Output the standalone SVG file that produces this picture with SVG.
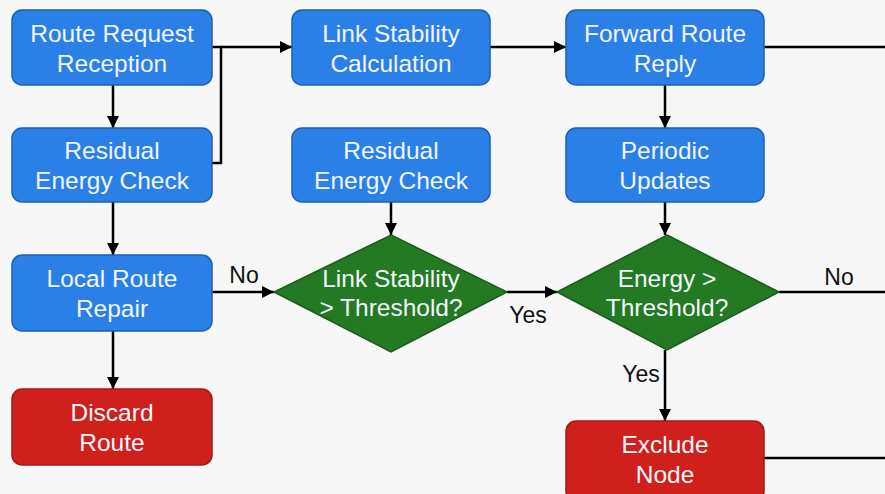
<svg xmlns="http://www.w3.org/2000/svg" width="885" height="494" viewBox="0 0 885 494">
<defs>
<marker id="ah" viewBox="0 0 10 10" refX="10" refY="5" markerWidth="13" markerHeight="12" markerUnits="userSpaceOnUse" orient="auto">
<path d="M0,0 L10,5 L0,10 z" fill="#000"/>
</marker>
<style>
.b{fill:#2b80e8;stroke:#1c5fb5;stroke-width:1.5}
.g{fill:#237a22;stroke:#1a5c1a;stroke-width:1.5}
.r{fill:#d0201c;stroke:#a51815;stroke-width:1.5}
.t{font-family:"Liberation Sans",Arial,sans-serif;font-size:24.5px;fill:#f2f6ff;text-anchor:middle}
.l{font-family:"Liberation Sans",Arial,sans-serif;font-size:23px;fill:#111;text-anchor:middle}
.c{fill:none;stroke:#000;stroke-width:2.5}
</style>
</defs>
<rect width="885" height="494" fill="#f7f7f7"/>
<g id="connectors">
<line class="c" x1="113" y1="85" x2="113" y2="128" marker-end="url(#ah)"/>
<polyline class="c" points="212,163 221,163 221,47 212,47"/>
<line class="c" x1="221" y1="47" x2="292" y2="47" marker-end="url(#ah)"/>
<line class="c" x1="490" y1="47" x2="566" y2="47" marker-end="url(#ah)"/>
<line class="c" x1="764" y1="47" x2="885" y2="47"/>
<line class="c" x1="665" y1="85" x2="665" y2="128" marker-end="url(#ah)"/>
<line class="c" x1="665" y1="202" x2="665" y2="235" marker-end="url(#ah)"/>
<line class="c" x1="391" y1="202" x2="391" y2="235" marker-end="url(#ah)"/>
<line class="c" x1="113" y1="202" x2="113" y2="255" marker-end="url(#ah)"/>
<line class="c" x1="113" y1="331" x2="113" y2="389" marker-end="url(#ah)"/>
<line class="c" x1="212" y1="292" x2="274" y2="292" marker-end="url(#ah)"/>
<line class="c" x1="507" y1="292" x2="557" y2="292" marker-end="url(#ah)"/>
<line class="c" x1="779" y1="292" x2="885" y2="292"/>
<line class="c" x1="665" y1="350" x2="665" y2="421" marker-end="url(#ah)"/>
<line class="c" x1="764" y1="458" x2="885" y2="458"/>
<text class="l" x="244" y="283">No</text>
<text class="l" x="528" y="323">Yes</text>
<text class="l" x="839" y="285">No</text>
<text class="l" x="641" y="382">Yes</text>
</g>
<g id="n1"><rect class="b" x="12" y="10" width="200" height="75" rx="10"/><text class="t" x="112" y="42">Route Request</text><text class="t" x="112" y="72">Reception</text></g>
<g id="n2"><rect class="b" x="12" y="128" width="200" height="74" rx="10"/><text class="t" x="112" y="159">Residual</text><text class="t" x="112" y="189">Energy Check</text></g>
<g id="n3"><rect class="b" x="12" y="255" width="200" height="76" rx="10"/><text class="t" x="112" y="287">Local Route</text><text class="t" x="112" y="317">Repair</text></g>
<g id="n4"><rect class="r" x="12" y="389" width="200" height="76" rx="10"/><text class="t" x="112" y="421">Discard</text><text class="t" x="112" y="451">Route</text></g>
<g id="n5"><rect class="b" x="292" y="10" width="198" height="75" rx="10"/><text class="t" x="391" y="42">Link Stability</text><text class="t" x="391" y="72">Calculation</text></g>
<g id="n6"><rect class="b" x="292" y="128" width="198" height="74" rx="10"/><text class="t" x="391" y="159">Residual</text><text class="t" x="391" y="189">Energy Check</text></g>
<g id="n7"><polygon class="g" points="391,235 507,292 391,352 274,292"/><text class="t" x="391" y="287">Link Stability</text><text class="t" x="391" y="316">&gt; Threshold?</text></g>
<g id="n8"><rect class="b" x="566" y="10" width="198" height="75" rx="10"/><text class="t" x="665" y="42">Forward Route</text><text class="t" x="665" y="72">Reply</text></g>
<g id="n9"><rect class="b" x="566" y="128" width="198" height="74" rx="10"/><text class="t" x="665" y="159">Periodic</text><text class="t" x="665" y="189">Updates</text></g>
<g id="n10"><polygon class="g" points="667,235 779,292 667,350 557,292"/><text class="t" x="667" y="287">Energy &gt;</text><text class="t" x="667" y="316">Threshold?</text></g>
<g id="n11"><rect class="r" x="566" y="421" width="198" height="80" rx="10"/><text class="t" x="665" y="453">Exclude</text><text class="t" x="665" y="483">Node</text></g>
</svg>
